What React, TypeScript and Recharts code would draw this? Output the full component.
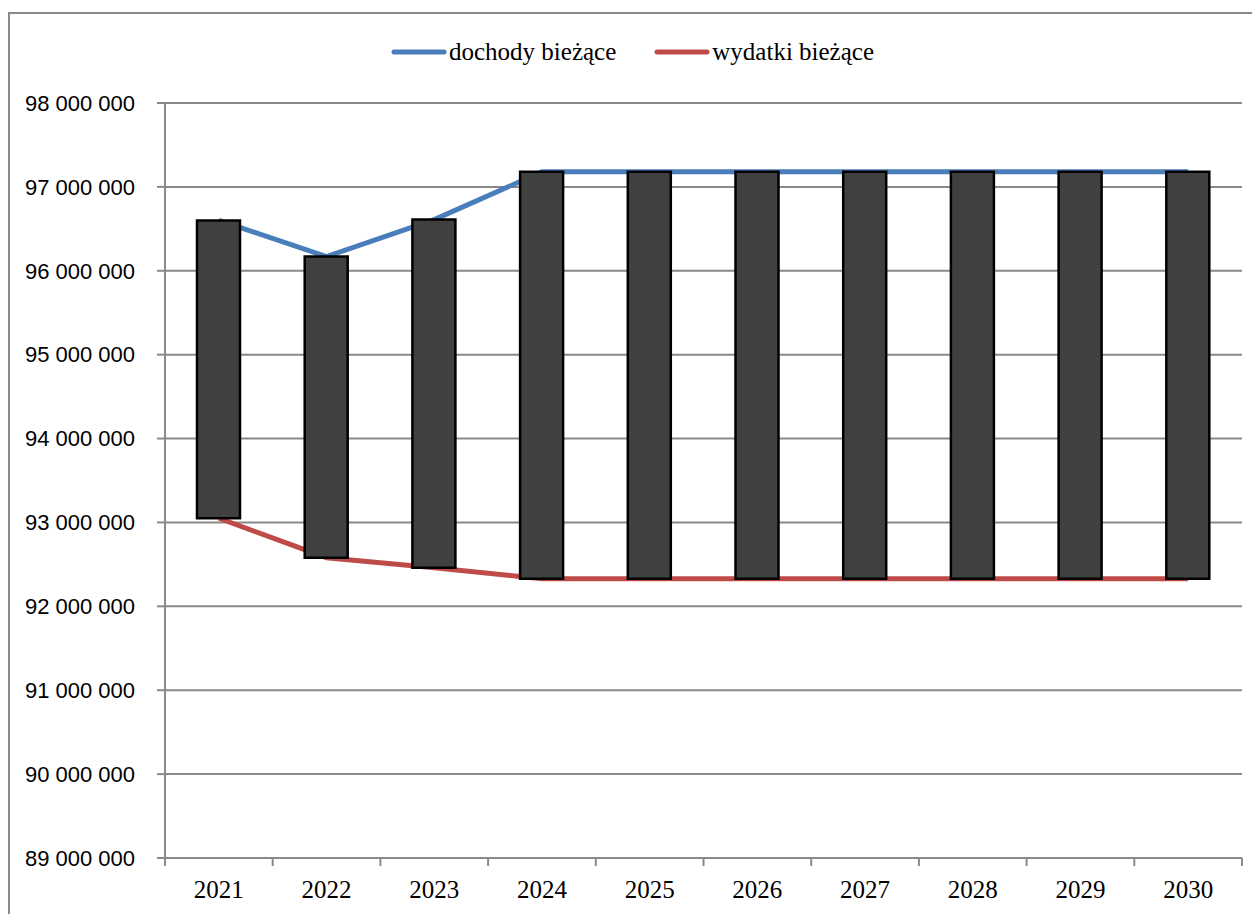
import { ComposedChart, Bar, Line, XAxis, YAxis, CartesianGrid, Legend } from "recharts";

const years = ["2021", "2022", "2023", "2024", "2025", "2026", "2027", "2028", "2029", "2030"];
const dochody = [96600000, 96170000, 96610000, 97180000, 97180000, 97180000, 97180000, 97180000, 97180000, 97180000];
const wydatki = [93050000, 92580000, 92460000, 92330000, 92330000, 92330000, 92330000, 92330000, 92330000, 92330000];
const yTicks = [89000000, 90000000, 91000000, 92000000, 93000000, 94000000, 95000000, 96000000, 97000000, 98000000];

const data = years.map((year, i) => ({
  year,
  dochody: dochody[i],
  wydatki: wydatki[i],
  range: [wydatki[i], dochody[i]],
}));

const W = 1252;
const H = 906;
const M = { top: 95, right: 18, bottom: 6, left: 27 };
const Y_WIDTH = 130;
const PLOT_W = W - M.left - Y_WIDTH - M.right;
const BAND = PLOT_W / years.length;

const GRID = "#898989";
const BLUE = "#4a7ebb";
const RED = "#be4b48";
const SERIF = "Liberation Serif, Tinos, Times New Roman, Times, DejaVu Serif, serif";

const fmt = (v: number) => String(v).replace(/\B(?=(\d{3})+(?!\d))/g, " ");

const XTick = (props: any) => {
  const { x, y, payload, index } = props;
  const left = x - BAND / 2;
  const right = x + BAND / 2;
  return (
    <g>
      <line x1={left} x2={left} y1={y} y2={y + 8} stroke={GRID} strokeWidth={2} />
      {index === years.length - 1 && (
        <line x1={right} x2={right} y1={y} y2={y + 8} stroke={GRID} strokeWidth={2} />
      )}
      <text x={x} y={y + 40} textAnchor="middle" fill="#000" fontSize={25} style={{ fontFamily: SERIF }}>
        {payload.value}
      </text>
    </g>
  );
};

const legendItems = [
  { label: "dochody bieżące", color: BLUE },
  { label: "wydatki bieżące", color: RED },
];

const LegendContent = () => (
  <div style={{ display: "flex", alignItems: "center", height: 40 }}>
    {legendItems.map((item, i) => (
      <div key={item.label} style={{ display: "flex", alignItems: "center", marginRight: i === 0 ? 38 : 0 }}>
        <svg width={56} height={10} style={{ marginRight: 2 }}>
          <line x1={3} x2={53} y1={5} y2={5} stroke={item.color} strokeWidth={5} strokeLinecap="round" />
        </svg>
        <span style={{ fontFamily: SERIF, fontSize: 25, color: "#000" }}>{item.label}</span>
      </div>
    ))}
  </div>
);

export default function App() {
  return (
    <div style={{ position: "relative", width: W, height: H }}>
      <div
        style={{
          position: "absolute",
          left: 0,
          top: 4,
          width: W,
          height: H - 4,
          borderLeft: `2px solid ${GRID}`,
          borderTop: `2px solid ${GRID}`,
          boxSizing: "border-box",
        }}
      />
      <div style={{ position: "absolute", left: 0, top: 0 }}>
        <ComposedChart width={W} height={H} data={data} margin={M}>
          <CartesianGrid vertical={false} stroke={GRID} strokeWidth={2} />
          <XAxis
            dataKey="year"
            axisLine={{ stroke: GRID, strokeWidth: 2 }}
            tickLine={false}
            tickSize={0}
            tickMargin={0}
            height={50}
            interval={0}
            tick={<XTick />}
          />
          <YAxis
            domain={[89000000, 98000000]}
            ticks={yTicks}
            width={Y_WIDTH}
            tickFormatter={fmt}
            axisLine={{ stroke: GRID, strokeWidth: 2 }}
            tickLine={{ stroke: GRID, strokeWidth: 2 }}
            tickSize={8}
            tickMargin={22}
            tick={{ fill: "#000", fontSize: 22, fontFamily: "Liberation Sans, Arial, sans-serif" }}
          />
          <Legend
            verticalAlign="middle"
            layout="horizontal"
            wrapperStyle={{ top: 24, left: 383, width: "auto" }}
            content={<LegendContent />}
          />
          <Line dataKey="dochody" stroke={BLUE} strokeWidth={5} dot={false} activeDot={false} isAnimationActive={false} />
          <Line dataKey="wydatki" stroke={RED} strokeWidth={5} dot={false} activeDot={false} isAnimationActive={false} />
          <Bar dataKey="range" barSize={43} fill="#404040" stroke="#000" strokeWidth={2.5} isAnimationActive={false} zIndex={500} />
        </ComposedChart>
      </div>
    </div>
  );
}
